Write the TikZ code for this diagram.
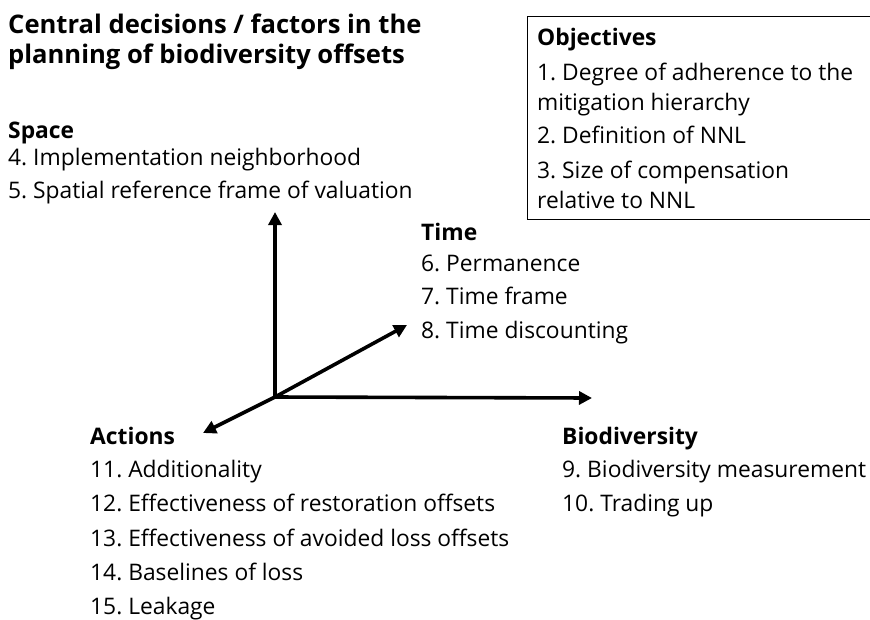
\documentclass[tikz,border=0pt]{standalone}
\usepackage{fontspec}
\setmainfont{Open Sans}
\usetikzlibrary{arrows.meta}

\begin{document}
\frenchspacing
\begin{tikzpicture}[
    x=1pt, y=-1pt,
    font=\fontsize{22.8}{26}\selectfont,
    item/.style={anchor=base west, inner sep=0pt},
    head/.style={item, font=\fontsize{22.8}{26}\selectfont\bfseries},
    title/.style={item, font=\fontsize{25.6}{30}\selectfont\bfseries},
    axis/.style={-{Triangle[length=13pt, width=13pt]}, line width=3.6pt}
]
\useasboundingbox (0,0) rectangle (870,619);
\node[title] (title1) at (8,33) {Central decisions / factors in the};
\node[title] (title2) at (8,63) {planning of biodiversity offsets};

% objectives box
\draw[line width=1pt] (900,16) -- (527,16) -- (527,219) -- (900,219);
\node[head] (obj) at (537,45) {Objectives};
\foreach \n/\y/\txt in {o1/80/1. Degree of adherence to the, o2/110/mitigation hierarchy,
  o3/143/2. Definition of NNL, o4/178/3. Size of compensation, o5/208/relative to NNL}
    \node[item] (\n) at (537,\y) {\txt};

% axes
\coordinate (origin) at (275,397);
\coordinate (up) at (275,212);
\coordinate (right) at (592,398);
\coordinate (back) at (407,325);
\coordinate (front) at (203,433);
\draw[axis] (origin) -- (up);
\draw[axis] (origin) -- (right);
\draw[axis] (origin) -- (back);
\draw[axis] (origin) -- (front);

% space
\node[head] (space) at (8,138) {Space};
\node[item] (s4) at (8,165) {4. Implementation neighborhood};
\node[item] (s5) at (8,198) {5. Spatial reference frame of valuation};

% time
\node[head] (time) at (421,240) {Time};
\foreach \n/\y/\txt in {t6/271/6. Permanence, t7/304/7. Time frame, t8/338/8. Time discounting}
    \node[item] (\n) at (421,\y) {\txt};

% actions
\node[head] (actions) at (90,444) {Actions};
\foreach \n/\y/\txt in {a11/477/11. Additionality, a12/511/12. Effectiveness of restoration offsets,
  a13/546/13. Effectiveness of avoided loss offsets, a14/580/14. Baselines of loss, a15/614/15. Leakage}
    \node[item] (\n) at (90,\y) {\txt};

% biodiversity
\node[head] (bio) at (562,444) {Biodiversity};
\node[item] (b9) at (562,477) {9. Biodiversity measurement};
\node[item] (b10) at (562,511) {10. Trading up};
\end{tikzpicture}
\end{document}
